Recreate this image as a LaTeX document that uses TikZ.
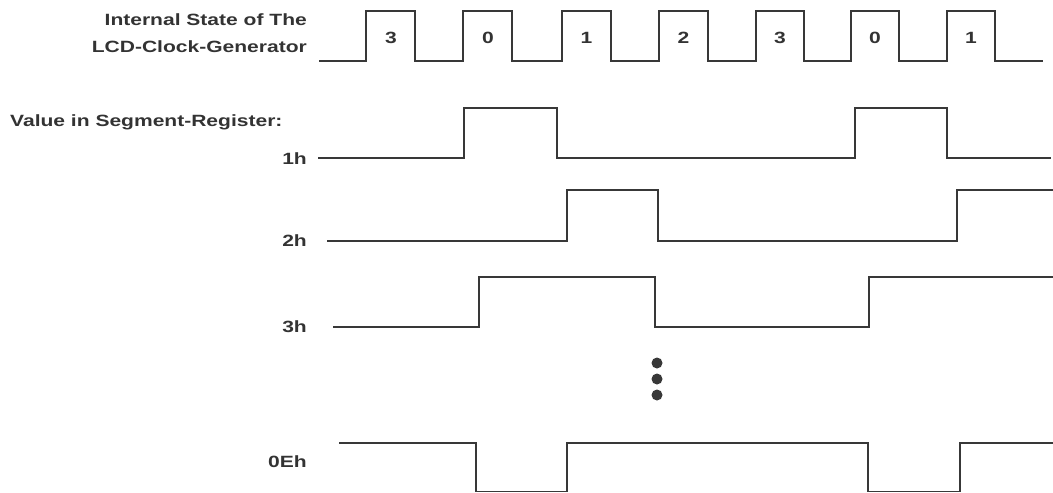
\documentclass[tikz,border=0pt]{standalone}
\usepackage{fontspec}
\setmainfont{Liberation Sans}[FakeStretch=1.29]
\definecolor{ink}{HTML}{333333}
\definecolor{wire}{HTML}{383838}
\begin{document}
\begin{tikzpicture}[x=1pt,y=-1pt,
  sig/.style={draw=wire,line width=1.9pt,line join=miter},
  lbl/.style={text=ink,font=\fontsize{16.3}{27}\selectfont\bfseries,inner sep=0pt},
  dot/.style={circle,fill=wire,inner sep=0pt,minimum size=11pt}]
\useasboundingbox (0,0) rectangle (1053,493);
% clock
\draw[sig] (319,61) -- (366,61) -- (366,11) -- (415,11) -- (415,61)
  -- (463,61) -- (463,11) -- (512,11) -- (512,61)
  -- (562,61) -- (562,11) -- (611,11) -- (611,61)
  -- (659,61) -- (659,11) -- (708,11) -- (708,61)
  -- (756,61) -- (756,11) -- (804,11) -- (804,61)
  -- (851,61) -- (851,11) -- (899,11) -- (899,61)
  -- (947,61) -- (947,11) -- (995,11) -- (995,61) -- (1043,61);
\node[lbl] (c1) at (391,37.5) {3};
\node[lbl] (c2) at (488,37.5) {0};
\node[lbl] (c3) at (586.5,37.5) {1};
\node[lbl] (c4) at (683.5,37.5) {2};
\node[lbl] (c5) at (780,37.5) {3};
\node[lbl] (c6) at (875,37.5) {0};
\node[lbl] (c7) at (971,37.5) {1};
\node[lbl,align=right,anchor=east] (title) at (307,33.5) {Internal State of The\\LCD-Clock-Generator};
\node[lbl,anchor=west] (value) at (10,122.5) {Value in Segment-Register:};
% 1h
\node[lbl,anchor=east] (l1) at (307,159) {1h};
\draw[sig] (318,158) -- (464,158) -- (464,108) -- (557,108) -- (557,158)
  -- (855,158) -- (855,108) -- (947,108) -- (947,158) -- (1051,158);
% 2h
\node[lbl,anchor=east] (l2) at (307,241) {2h};
\draw[sig] (327,241) -- (567,241) -- (567,190) -- (658,190) -- (658,241)
  -- (957,241) -- (957,190) -- (1053,190);
% 3h
\node[lbl,anchor=east] (l3) at (307,327) {3h};
\draw[sig] (333,327) -- (479,327) -- (479,277) -- (655,277) -- (655,327)
  -- (869,327) -- (869,277) -- (1053,277);
% dots
\node[dot] (d1) at (657,363) {};
\node[dot] (d2) at (657,379) {};
\node[dot] (d3) at (657,395) {};
% 0Eh
\node[lbl,anchor=east] (l4) at (307,461.5) {0Eh};
\draw[sig] (339,443) -- (476,443) -- (476,491.5) -- (567,491.5) -- (567,443)
  -- (868,443) -- (868,491.5) -- (960,491.5) -- (960,443) -- (1053,443);
\end{tikzpicture}
\end{document}
